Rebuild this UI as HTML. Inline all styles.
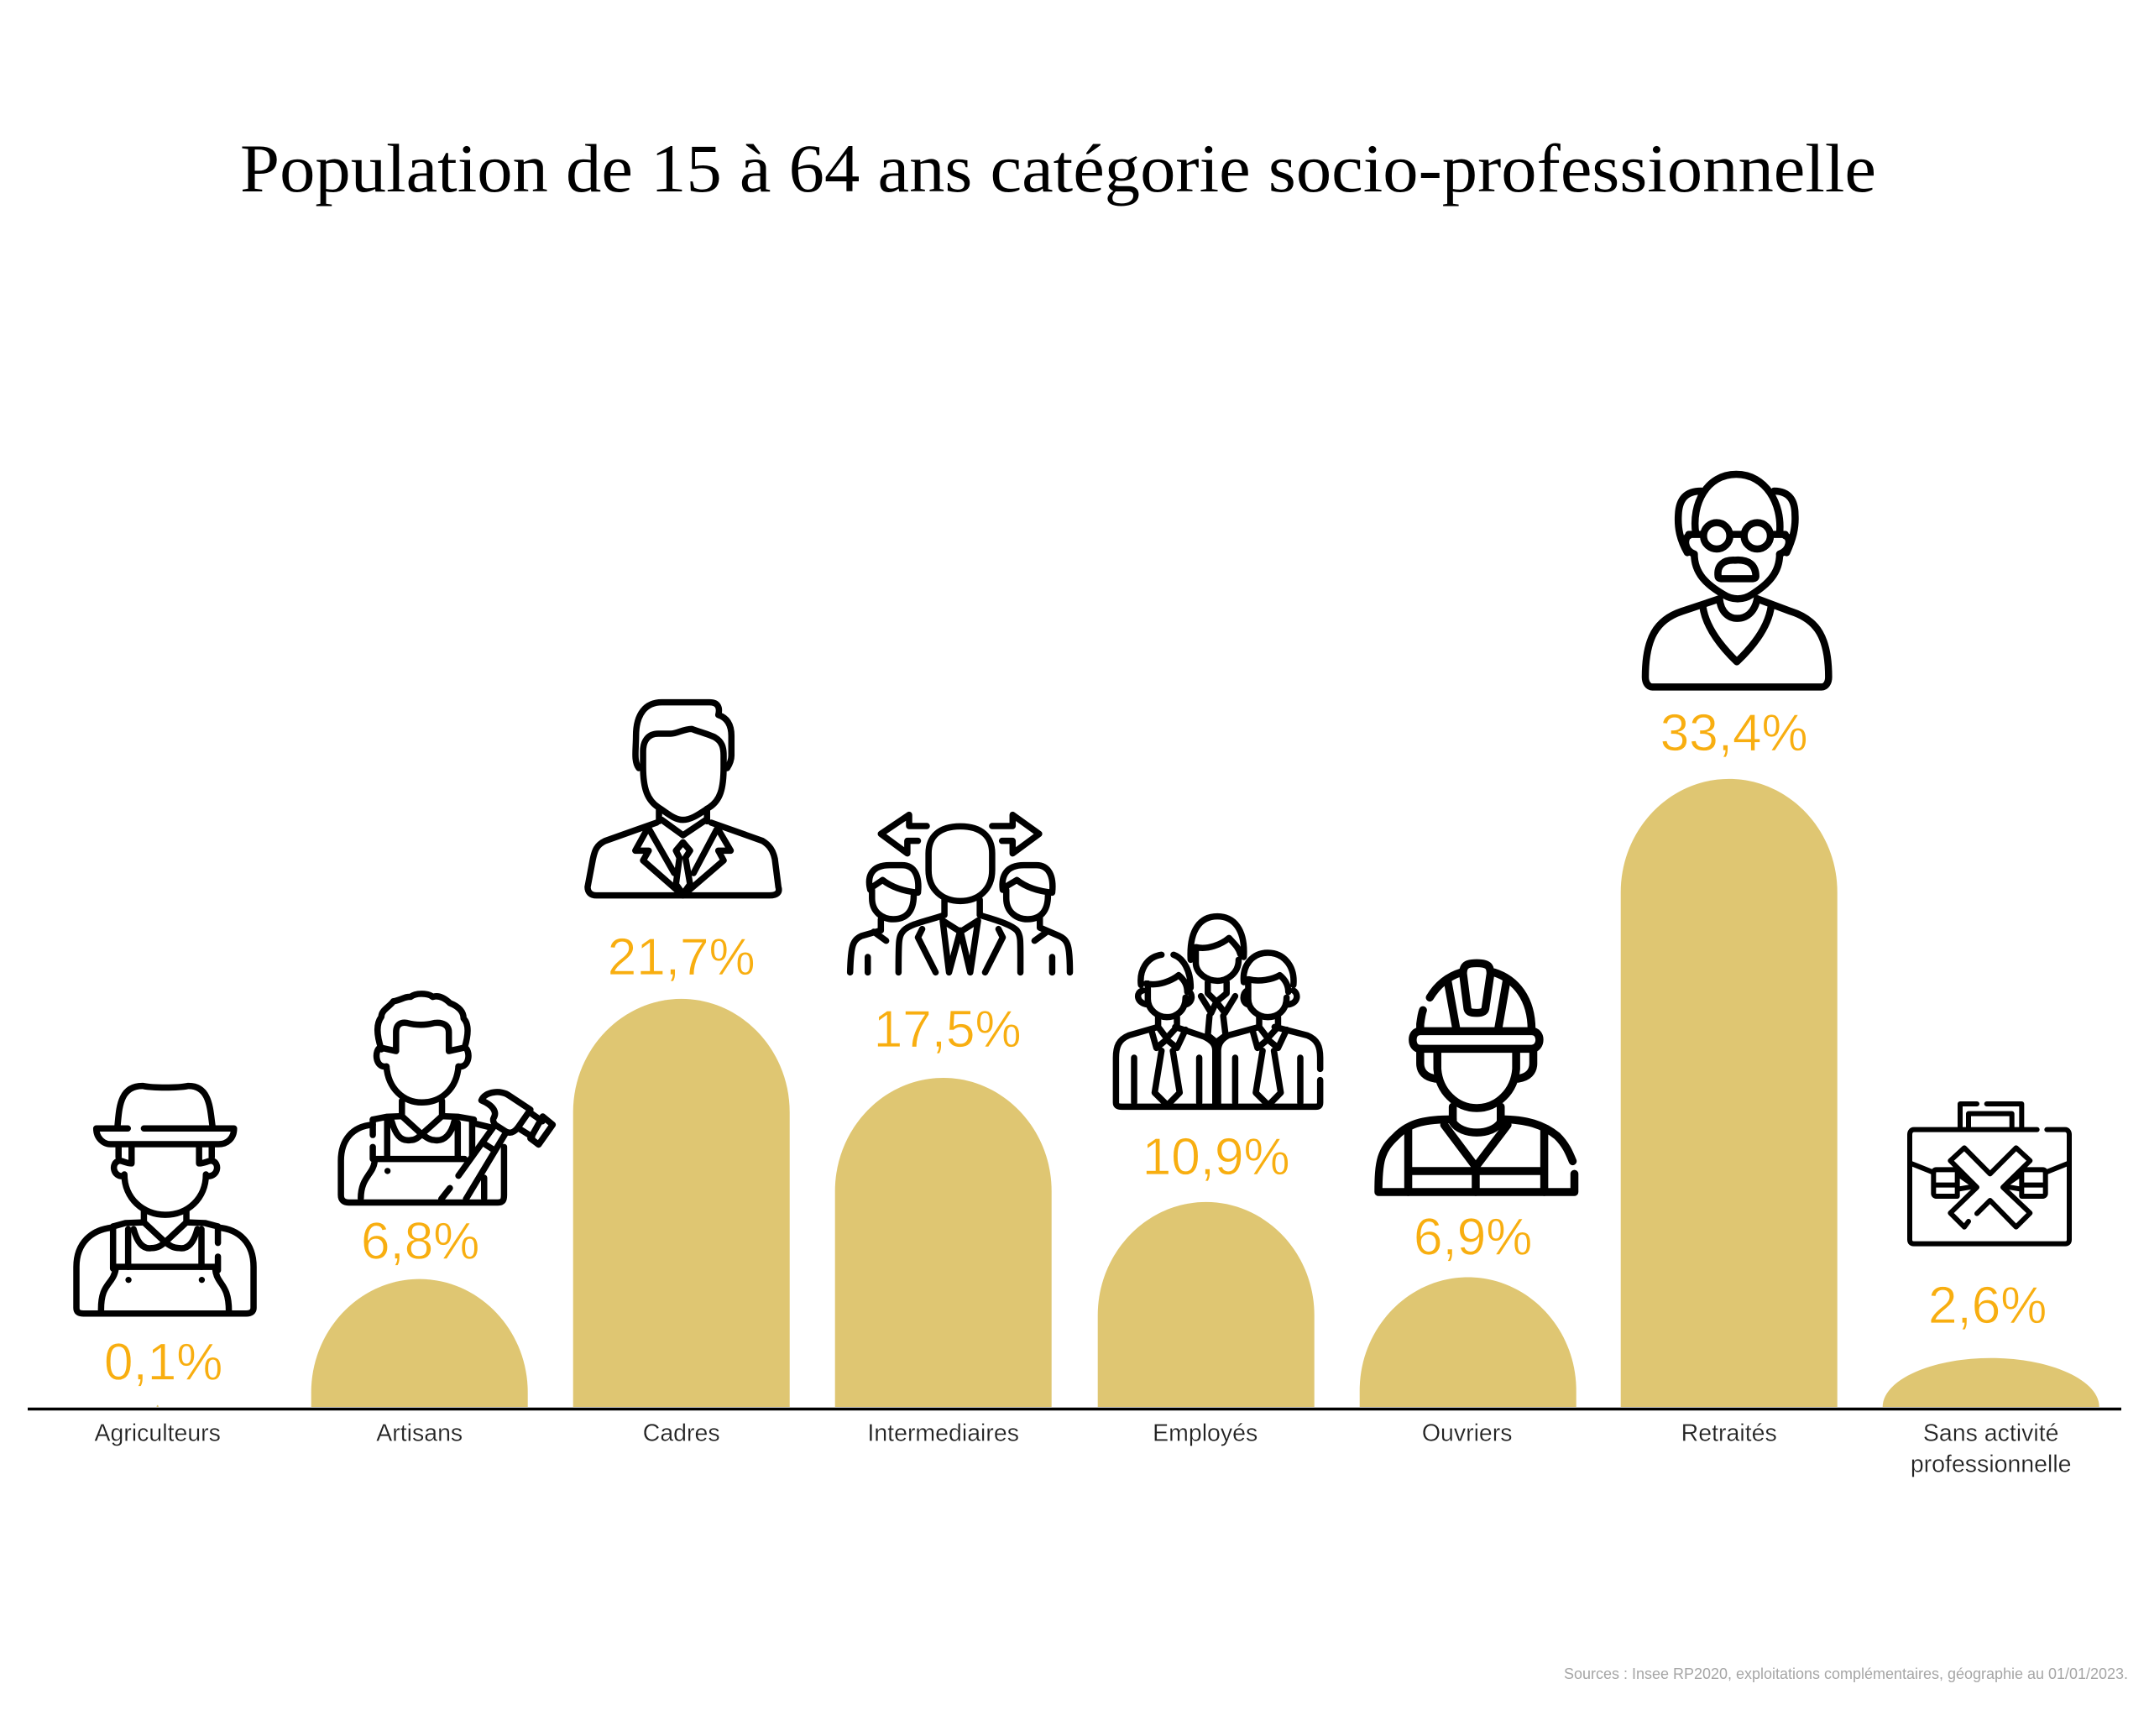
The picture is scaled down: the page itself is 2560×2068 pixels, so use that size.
<!DOCTYPE html>
<html lang="fr">
<head>
<meta charset="utf-8">
<title>Population de 15 à 64 ans catégorie socio-professionnelle</title>
<style>
html,body{margin:0;padding:0;background:#fff;width:2560px;height:2068px;overflow:hidden}
svg{display:block}
.icon{fill:none;stroke:#000;stroke-width:7.5;stroke-linecap:round;stroke-linejoin:round}
.icon path,.icon circle{vector-effect:non-scaling-stroke}
.icon .dot{fill:#000;stroke:none}
.icon .knockout{fill:#fff}
</style>
</head>
<body>
<svg id="chart" xmlns="http://www.w3.org/2000/svg" width="2560" height="2068" viewBox="0 0 2560 2068">
  <rect x="0" y="0" width="2560" height="2068" fill="#ffffff"/>
  <text x="286" y="228" font-family="'Liberation Serif',serif" font-size="82" fill="#000" textLength="1949" lengthAdjust="spacingAndGlyphs">Population de 15 à 64 ans catégorie socio-professionnelle</text>
  <g id="bars"></g>
  <line x1="33" x2="2527" y1="1678.5" y2="1678.5" stroke="#000" stroke-width="3.5"/>
  <g id="value-labels"></g>
  <g id="category-labels"></g>

  <g class="icon" id="icon-0">
    <path d="M245 468C250 420 250 350 320 352C350 358 420 358 450 352C515 350 515 420 522 468"/>
    <path d="M275 476H183C183 505 205 522 225 522H540C565 522 585 505 585 476H322"/>
    <path d="M248 525V560M286 525V578C270 578 260 570 250 570C225 575 230 620 265 615"/>
    <path d="M265 610C265 680 320 728 384 728C450 728 503 680 503 610"/>
    <path d="M520 525V560M483 525V578C498 578 510 570 520 570C545 575 540 620 503 615"/>
    <path d="M322 715V750M446 715V750M322 750L384 808L446 750"/>
    <path d="M292 770C300 800 315 830 345 825C365 825 375 815 384 808C395 815 405 825 425 825C455 830 470 800 478 770"/>
    <path d="M232 765C170 770 125 810 125 880V1000C125 1010 130 1016 145 1016H620C635 1016 642 1010 642 1000V880C642 810 600 770 538 765"/>
    <path d="M232 762L268 752L322 750M446 750L500 752L538 762"/>
    <path d="M232 762V885M276 770V880M490 770V880M538 762V810M538 850V890"/>
    <path d="M232 880H535M240 885C232 935 195 925 197 1010M530 885C535 935 570 925 570 1010"/>
    <circle class="dot" cx="277" cy="918" r="9"/>
    <circle class="dot" cx="491" cy="918" r="9"/>
  </g>

  <g class="icon" id="icon-1">
    <path d="M1015 245C1000 200 1000 170 1015 150C1015 130 1040 120 1050 105C1075 100 1085 90 1100 92C1115 80 1150 80 1165 92C1185 85 1205 100 1215 110C1240 120 1255 135 1255 155C1270 170 1270 200 1258 240"/>
    <path d="M1012 240L1058 250V195C1058 170 1075 165 1090 168C1115 175 1145 175 1170 168C1195 165 1212 175 1212 195V250L1258 240"/>
    <path d="M1012 240C995 245 995 300 1030 295M1258 240C1275 245 1275 300 1240 295"/>
    <path d="M1030 295C1035 360 1080 400 1133 400C1190 400 1235 360 1240 295"/>
    <path d="M1075 395V440M1192 395V440M1075 440L1133 493L1192 440"/>
    <path d="M1045 455C1055 490 1070 515 1100 510C1115 510 1125 500 1133 493C1145 500 1155 510 1170 510C1200 515 1220 490 1228 455"/>
    <path d="M990 465C930 470 897 510 897 570V670C897 685 905 692 920 692H1355C1370 692 1373 685 1373 670V530"/>
    <path d="M990 450L1030 442L1075 440M1192 440L1240 442L1285 450M1285 461L1335 473"/>
    <path d="M990 450V495M990 530V565M1032 450V560M1238 460V560M1280 455V555"/>
    <path d="M1000 565H1258M995 575C990 610 955 620 955 680M1315 620V680"/>
    <path d="M1347 465L1240 614M1215 650L1190 682M1380 486L1262 682M1319 523L1347 541"/>
    <path d="M1307 394C1317 367 1366 363 1388 380L1450 421L1413 474C1400 490 1390 490 1380 486L1347 465C1340 455 1340 450 1343 445C1352 430 1345 410 1307 394Z"/>
    <path d="M1447 428L1485 455M1413 474L1455 500M1486 441L1515 465L1474 523L1450 505Z"/>
    <circle class="dot" cx="1033" cy="600" r="9"/>
  </g>

  <g class="icon" id="icon-2">
    <path d="M240 345C225 320 232 280 232 230C232 150 260 110 305 110H440C465 110 470 130 465 155C490 165 502 190 502 230V300C502 320 495 335 490 345"/>
    <path d="M252 340V285C252 250 265 222 295 222H330C350 222 365 205 390 205C410 215 440 225 455 235C475 250 480 270 480 300V340C480 420 470 460 440 485C415 505 390 530 365 530C340 530 320 505 295 485C265 460 252 420 252 340Z"/>
    <path d="M297 490V535M433 490V535M305 530L365 585L430 530"/>
    <path d="M290 540L145 605C120 620 115 640 110 670L95 770C95 790 105 800 120 800H610C630 800 640 790 635 770L625 670C620 640 610 620 590 605L445 540"/>
    <path d="M265 560L230 640L268 640L252 675L365 800M465 565L500 640L465 640L480 675L365 800"/>
    <path d="M270 565L340 720M460 565L395 720"/>
    <path d="M365 610L345 640L355 665L345 760L365 795L385 760L372 665L385 640Z"/>
  </g>

  <g class="icon" id="icon-3">
    <path d="M1150 553C1210 553 1240 590 1240 650V710C1240 780 1200 820 1150 820C1100 820 1060 780 1060 710V650C1060 590 1090 553 1150 553Z"/>
    <path d="M1055 552H1005V512L925 580L1000 650V605H1030M1240 552H1298V512L1373 580L1298 650V605H1268"/>
    <path d="M1105 815V870M1205 815V870M1105 870C1060 890 1010 900 990 925C975 945 975 960 975 1075M1205 870C1240 885 1290 900 1310 925C1322 945 1320 960 1320 1075"/>
    <path d="M1100 890L1150 930L1200 890M1042 920L1030 950L1080 1075M1258 920L1270 950L1220 1075M1100 890L1118 1075M1200 890L1178 1075M1150 925L1118 1075M1150 925L1178 1075"/>
    <path d="M895 780C885 730 900 692 950 692H985C1020 692 1035 730 1030 790M895 775L930 745C955 770 990 785 1030 790M900 780V810C900 860 930 885 960 885C995 885 1018 860 1018 800"/>
    <path d="M925 885V925L870 945C845 960 840 980 838 1075M905 930L940 962M888 1020V1075"/>
    <path d="M1270 780C1265 730 1280 692 1330 692H1365C1400 692 1415 730 1410 790M1270 775L1310 745C1335 770 1370 785 1410 790M1280 780V810C1280 860 1310 885 1340 885C1375 885 1398 860 1398 800"/>
    <path d="M1375 880V915L1430 945C1455 960 1460 980 1460 1075M1395 930L1360 962M1410 1020V1075"/>
  </g>

  <g class="icon" id="icon-4">
    <path d="M290 250C285 140 320 95 368 95C415 95 450 140 445 240M305 205C340 215 380 195 402 172C415 190 430 205 435 230M305 205V260C305 300 340 325 368 325C395 325 430 300 430 250"/>
    <path d="M345 450L340 520L365 545L392 520L385 450M340 330V370L365 400L395 370V330M320 380L350 440L365 400L390 440L420 380"/>
    <path d="M205 232C160 240 140 290 145 340M240 232C270 245 290 290 290 350M160 335C195 345 235 325 255 305C275 325 280 345 280 365M165 335V390C165 430 195 455 220 455C250 455 275 430 275 385M150 360C130 365 130 405 165 410M280 360C300 370 295 405 275 410"/>
    <path d="M195 455V490L220 530L250 490V455M175 500L190 565L220 535L250 565L275 500M205 575L185 725L222 770L258 725L238 575"/>
    <path d="M195 490L110 520C80 535 72 560 72 600V760C72 770 75 775 90 775H655C665 775 668 770 668 760V680M668 640V600C668 560 660 535 630 520L535 490M245 490L330 525C355 540 362 555 362 575V770M490 490L400 520C385 530 370 545 370 575V770"/>
    <path d="M125 600V760M315 600V760M420 600V760M610 600V760"/>
    <path d="M445 330C440 270 470 225 515 225C560 225 595 270 590 340M460 320C490 330 530 320 550 305C565 320 575 340 575 365M458 320V390C458 430 490 455 515 455C545 455 570 430 570 385M455 360C440 370 440 405 458 410M590 360C605 370 605 405 575 410"/>
    <path d="M490 455V490L515 530L545 490V455M470 500L485 565L515 535L545 565L570 500M500 575L480 725L517 770L553 725L533 575"/>
  </g>

  <g class="icon" id="icon-5" style="stroke-width:9.5">
    <path d="M960 505H1285C1300 505 1308 520 1308 535C1308 552 1300 568 1285 568H960C945 568 938 552 938 535C938 520 945 505 960 505Z"/>
    <path d="M960 500V480C962 460 965 440 968 430M988 385C1010 340 1040 310 1080 295M1175 295C1240 320 1285 390 1285 500"/>
    <path d="M1085 300C1085 270 1095 262 1125 262C1160 262 1165 275 1165 300L1150 425C1148 435 1140 440 1125 440C1105 440 1100 435 1098 425Z"/>
    <path d="M1040 325L1065 495M1212 325L1188 495"/>
    <path d="M960 570V620C960 650 975 670 1005 675M1290 570V620C1290 650 1275 670 1245 675"/>
    <path d="M1010 570V640C1015 720 1065 780 1125 780C1185 780 1235 720 1240 640V570"/>
    <path d="M1055 775V830M1195 775V830M1055 830C1080 880 1170 880 1195 830"/>
    <path d="M1055 820C980 820 930 830 890 880C845 930 838 970 838 1080M1195 820C1270 820 1320 840 1360 880C1385 910 1395 940 1405 970M838 1080H1410V1015"/>
    <path d="M925 850V1080M1322 860V1080M1030 840L1122 990L1215 840M930 1005H1315M1122 990V1080"/>
  </g>

  <g class="icon" id="icon-6" style="stroke-width:8.5">
    <path d="M300 285C285 180 340 75 445 75C550 75 610 180 600 285"/>
    <path d="M320 135C260 135 240 170 238 220C235 270 245 310 270 355M580 135C635 135 655 170 655 220C658 270 645 310 625 355"/>
    <circle cx="375" cy="295" r="47"/>
    <circle cx="520" cy="295" r="47"/>
    <path d="M422 290H473M328 290H275M567 290H620"/>
    <path d="M275 295C260 300 255 345 295 360M620 295C640 300 640 345 600 360"/>
    <path d="M295 360C295 430 340 470 400 505C430 525 470 525 500 505C555 470 600 430 600 360"/>
    <path d="M380 440C375 400 400 380 440 382C490 378 515 400 515 440C515 445 510 448 505 448H390C385 448 380 445 380 440Z"/>
    <path d="M385 520C390 570 420 590 448 590C480 590 510 570 520 520"/>
    <path d="M325 545C335 620 390 690 447 745C505 690 560 620 570 545"/>
    <path d="M385 520L250 565C160 595 120 660 120 800C120 820 130 835 145 835H750C765 835 775 820 775 800C775 660 735 595 640 565L520 520"/>
  </g>

  <g class="icon" id="icon-7" style="stroke-width:6">
    <path d="M655 197H720C730 197 735 205 735 215V590C735 600 730 605 720 605H180C170 605 165 600 165 590V215C165 205 170 197 180 197H620"/>
    <path d="M345 190V105H405M440 105H565V190M375 190V140H530V190"/>
    <path d="M170 318L250 350M730 318L650 350"/>
    <path d="M260 340H335V435H260C253 435 250 430 250 425V350C250 345 253 340 260 340ZM250 395H335M335 355L400 400M335 410L395 400"/>
    <path d="M565 340H640C647 340 650 345 650 350V425C650 430 647 435 640 435H565ZM565 395H650M565 355L500 400M565 410L505 400"/>
    <path class="knockout" d="M452 355L545 262L595 308L498 403L595 495L545 545L452 450L405 497M375 525L360 545L310 495L405 403L310 308L360 262L452 355"/>
  </g>

  <text x="1863" y="2000" font-family="'Liberation Sans',sans-serif" font-size="18" fill="#a6a6a6" textLength="672" lengthAdjust="spacingAndGlyphs">Sources : Insee RP2020, exploitations complémentaires, géographie au 01/01/2023.</text>
</svg>

<script>
const categories = ['Agriculteurs', 'Artisans', 'Cadres', 'Intermediaires', 'Employés', 'Ouvriers', 'Retraités', 'Sans activité\nprofessionnelle'];
const values = [0.1, 6.8, 21.7, 17.5, 10.9, 6.9, 33.4, 2.6];

const SVG_NS = 'http://www.w3.org/2000/svg';
const BASE_Y = 1676;
const PX_PER_PERCENT = 22.4;
const FIRST_CENTER = 187.7;
const STEP = 312;
const BAR_WIDTH = 258;
const CAP_HEIGHT = 135;

function xCenter(i) { return FIRST_CENTER + STEP * i; }
function yScale(v) { return BASE_Y - v * PX_PER_PERCENT; }

function barPath(i, v) {
  const cx = xCenter(i) + barNudge[i];
  const top = yScale(v);
  const h = BASE_Y - top;
  const rx = Math.min(BAR_WIDTH / 2, h * h * h * 0.1);
  const ry = Math.min(h, CAP_HEIGHT);
  const k = 0.55;
  const l = cx - rx, r = cx + rx, s = top + ry;
  return 'M' + l + ' ' + BASE_Y + 'L' + l + ' ' + s +
    'C' + l + ' ' + (s - ry * k) + ' ' + (cx - rx * k) + ' ' + top + ' ' + cx + ' ' + top +
    'C' + (cx + rx * k) + ' ' + top + ' ' + r + ' ' + (s - ry * k) + ' ' + r + ' ' + s +
    'L' + r + ' ' + BASE_Y + 'Z';
}

function slug(s) {
  return s.toLowerCase().normalize('NFD').replace(/[\u0300-\u036f]/g, '').replace(/[^a-z]+/g, '-');
}

/* Layout nudges relative to each column: these follow the bar top, so marks stay value-driven. */
const barNudge = [0, 0, 0, 0, 1, 1, 0, 0];
const labelShiftX = [7, 1, 0, 5, 13, 7, 6, -4];
const labelShiftY = [-30.5, -24, -29, -37, -33, -27, -34, -42];
const iconShiftX = [-147.7, -459.7, -151.7, -463.7, -135.7, -447.7, -139.7, -151.7];
const iconShiftY = [-523.76, -373.68, -389.92, -484, -371.84, -461.44, -387.84, -337.76];
const iconScaleX = [2.45, 2.45, 2.376, 2.376, 2.45, 2.45, 3, 3];
const iconScaleY = [2.45, 2.45, 3, 3, 3, 3, 3, 3];

const barsGroup = document.getElementById('bars');
const valuesGroup = document.getElementById('value-labels');
const catsGroup = document.getElementById('category-labels');

values.forEach(function (v, i) {
  const name = slug(categories[i]);

  const bar = document.createElementNS(SVG_NS, 'path');
  
  
  bar.setAttribute('d', barPath(i, v));
  bar.setAttribute('fill', '#DFC672');
  barsGroup.appendChild(bar);

  const label = document.createElementNS(SVG_NS, 'text');
  
  
  label.setAttribute('x', xCenter(i) + labelShiftX[i]);
  label.setAttribute('y', yScale(v) + labelShiftY[i]);
  label.setAttribute('text-anchor', 'middle');
  label.setAttribute('font-family', "'Liberation Sans',sans-serif");
  label.setAttribute('font-size', '62');
  label.setAttribute('fill', '#F8AE10');
  label.setAttribute('stroke', '#ffffff');
  label.setAttribute('stroke-width', '0.7');
  label.textContent = v.toFixed(1).replace('.', ',') + '%';
  valuesGroup.appendChild(label);

  const icon = document.getElementById('icon-' + i);
  icon.setAttribute('transform',
    'translate(' + (xCenter(i) + iconShiftX[i]) + ' ' + (yScale(v) + iconShiftY[i]) + ') ' +
    'scale(' + (1 / iconScaleX[i]) + ' ' + (1 / iconScaleY[i]) + ')');

  categories[i].split('\n').forEach(function (line, n) {
    const cat = document.createElementNS(SVG_NS, 'text');
    
    
    cat.setAttribute('x', xCenter(i));
    cat.setAttribute('y', 1716.5 + n * 37);
    cat.setAttribute('text-anchor', 'middle');
    cat.setAttribute('font-family', "'Liberation Sans',sans-serif");
    cat.setAttribute('font-size', '28.5');
    cat.setAttribute('fill', '#222222');
    cat.setAttribute('stroke', '#ffffff');
    cat.setAttribute('stroke-width', '0.3');
    cat.textContent = line;
    catsGroup.appendChild(cat);
  });
});
</script>
</body>
</html>
